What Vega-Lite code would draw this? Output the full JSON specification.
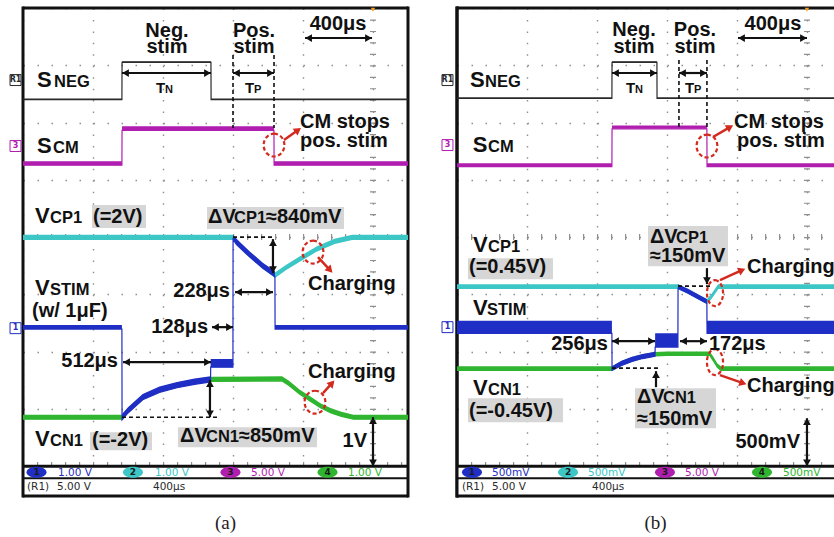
{
"$schema":"https://vega.github.io/schema/vega-lite/v6.json",
"padding":0,
"background":"white",
"spacing":49,
"bounds":"flush",
"data":{"values":[{"frame":1}]},
"config":{"view":{"stroke":null},"legend":{"disable":true},"title":{"orient":"bottom","frame":"group","offset":16,"dx":10,"font":"Liberation Serif","fontSize":19,"fontWeight":"normal","color":"#222"}},
"datasets":{
"tr":[
{"p":"a","ch":"SNEG","x":0,"lo":6.4,"hi":6.42},{"p":"a","ch":"SNEG","x":1.413,"lo":6.4,"hi":6.42},{"p":"a","ch":"SNEG","x":1.415,"lo":7.05,"hi":7.07},{"p":"a","ch":"SNEG","x":2.685,"lo":7.05,"hi":7.07},{"p":"a","ch":"SNEG","x":2.687,"lo":6.4,"hi":6.42},{"p":"a","ch":"SNEG","x":5.5,"lo":6.4,"hi":6.42},
{"p":"a","ch":"SCM","x":0,"lo":5.255,"hi":5.325},{"p":"a","ch":"SCM","x":1.413,"lo":5.255,"hi":5.325},{"p":"a","ch":"SCM","x":1.415,"lo":5.865,"hi":5.935},{"p":"a","ch":"SCM","x":3.585,"lo":5.865,"hi":5.935},{"p":"a","ch":"SCM","x":3.587,"lo":5.255,"hi":5.325},{"p":"a","ch":"SCM","x":5.5,"lo":5.255,"hi":5.325},
{"p":"a","ch":"VCP1","x":0,"lo":3.96,"hi":4.04},{"p":"a","ch":"VCP1","x":3.0,"lo":3.96,"hi":4.04},{"p":"a","ch":"VCP1","x":3.1,"lo":3.82,"hi":3.9},{"p":"a","ch":"VCP1","x":3.24,"lo":3.66,"hi":3.74},{"p":"a","ch":"VCP1","x":3.43,"lo":3.46,"hi":3.54},{"p":"a","ch":"VCP1","x":3.6,"lo":3.3,"hi":3.38},{"p":"a","ch":"VCP1","x":3.75,"lo":3.43,"hi":3.51},{"p":"a","ch":"VCP1","x":3.95,"lo":3.58,"hi":3.66},{"p":"a","ch":"VCP1","x":4.2,"lo":3.76,"hi":3.84},{"p":"a","ch":"VCP1","x":4.45,"lo":3.89,"hi":3.97},{"p":"a","ch":"VCP1","x":4.7,"lo":3.96,"hi":4.04},{"p":"a","ch":"VCP1","x":5.5,"lo":3.96,"hi":4.04},
{"p":"a","ch":"VCN1","x":0,"lo":0.82,"hi":0.9},{"p":"a","ch":"VCN1","x":1.414,"lo":0.82,"hi":0.9},{"p":"a","ch":"VCN1","x":1.5,"lo":0.94,"hi":1.02},{"p":"a","ch":"VCN1","x":1.71,"lo":1.17,"hi":1.25},{"p":"a","ch":"VCN1","x":1.95,"lo":1.3,"hi":1.38},{"p":"a","ch":"VCN1","x":2.2,"lo":1.38,"hi":1.46},{"p":"a","ch":"VCN1","x":2.45,"lo":1.44,"hi":1.52},{"p":"a","ch":"VCN1","x":2.68,"lo":1.48,"hi":1.56},{"p":"a","ch":"VCN1","x":3.7,"lo":1.49,"hi":1.57},{"p":"a","ch":"VCN1","x":3.8,"lo":1.41,"hi":1.49},{"p":"a","ch":"VCN1","x":3.95,"lo":1.26,"hi":1.34},{"p":"a","ch":"VCN1","x":4.1,"lo":1.14,"hi":1.22},{"p":"a","ch":"VCN1","x":4.25,"lo":1.02,"hi":1.1},{"p":"a","ch":"VCN1","x":4.4,"lo":0.93,"hi":1.01},{"p":"a","ch":"VCN1","x":4.55,"lo":0.87,"hi":0.95},{"p":"a","ch":"VCN1","x":4.72,"lo":0.82,"hi":0.9},{"p":"a","ch":"VCN1","x":5.5,"lo":0.82,"hi":0.9},
{"p":"a","ch":"VSTIM","x":0,"lo":2.395,"hi":2.465},{"p":"a","ch":"VSTIM","x":1.413,"lo":2.395,"hi":2.465},{"p":"a","ch":"VSTIM","x":1.415,"lo":0.81,"hi":0.91},{"p":"a","ch":"VSTIM","x":1.5,"lo":0.93,"hi":1.03},{"p":"a","ch":"VSTIM","x":1.71,"lo":1.16,"hi":1.26},{"p":"a","ch":"VSTIM","x":1.95,"lo":1.29,"hi":1.39},{"p":"a","ch":"VSTIM","x":2.2,"lo":1.37,"hi":1.47},{"p":"a","ch":"VSTIM","x":2.45,"lo":1.43,"hi":1.53},{"p":"a","ch":"VSTIM","x":2.679,"lo":1.47,"hi":1.57},{"p":"a","ch":"VSTIM","x":2.681,"lo":1.73,"hi":1.87},{"p":"a","ch":"VSTIM","x":2.999,"lo":1.73,"hi":1.87},{"p":"a","ch":"VSTIM","x":3.001,"lo":3.96,"hi":4.04},{"p":"a","ch":"VSTIM","x":3.05,"lo":3.87,"hi":3.97},{"p":"a","ch":"VSTIM","x":3.24,"lo":3.65,"hi":3.75},{"p":"a","ch":"VSTIM","x":3.43,"lo":3.45,"hi":3.55},{"p":"a","ch":"VSTIM","x":3.599,"lo":3.31,"hi":3.41},{"p":"a","ch":"VSTIM","x":3.601,"lo":2.395,"hi":2.465},{"p":"a","ch":"VSTIM","x":5.5,"lo":2.395,"hi":2.465},
{"p":"b","ch":"SNEG","x":0,"lo":6.42,"hi":6.44},{"p":"b","ch":"SNEG","x":2.213,"lo":6.42,"hi":6.44},{"p":"b","ch":"SNEG","x":2.215,"lo":7.05,"hi":7.07},{"p":"b","ch":"SNEG","x":2.856,"lo":7.05,"hi":7.07},{"p":"b","ch":"SNEG","x":2.858,"lo":6.42,"hi":6.44},{"p":"b","ch":"SNEG","x":5.386,"lo":6.42,"hi":6.44},
{"p":"b","ch":"SCM","x":0,"lo":5.23,"hi":5.29},{"p":"b","ch":"SCM","x":2.213,"lo":5.23,"hi":5.29},{"p":"b","ch":"SCM","x":2.215,"lo":5.89,"hi":5.95},{"p":"b","ch":"SCM","x":3.57,"lo":5.89,"hi":5.95},{"p":"b","ch":"SCM","x":3.572,"lo":5.23,"hi":5.29},{"p":"b","ch":"SCM","x":5.386,"lo":5.23,"hi":5.29},
{"p":"b","ch":"VCP1","x":0,"lo":3.105,"hi":3.175},{"p":"b","ch":"VCP1","x":3.157,"lo":3.105,"hi":3.175},{"p":"b","ch":"VCP1","x":3.3,"lo":3.025,"hi":3.095},{"p":"b","ch":"VCP1","x":3.45,"lo":2.925,"hi":2.995},{"p":"b","ch":"VCP1","x":3.571,"lo":2.845,"hi":2.915},{"p":"b","ch":"VCP1","x":3.64,"lo":2.945,"hi":3.015},{"p":"b","ch":"VCP1","x":3.73,"lo":3.105,"hi":3.175},{"p":"b","ch":"VCP1","x":5.386,"lo":3.105,"hi":3.175},
{"p":"b","ch":"VCN1","x":0,"lo":1.675,"hi":1.745},{"p":"b","ch":"VCN1","x":2.214,"lo":1.675,"hi":1.745},{"p":"b","ch":"VCN1","x":2.35,"lo":1.765,"hi":1.835},{"p":"b","ch":"VCN1","x":2.5,"lo":1.835,"hi":1.905},{"p":"b","ch":"VCN1","x":2.65,"lo":1.885,"hi":1.955},{"p":"b","ch":"VCN1","x":2.83,"lo":1.925,"hi":1.995},{"p":"b","ch":"VCN1","x":3.0,"lo":1.935,"hi":2.005},{"p":"b","ch":"VCN1","x":3.61,"lo":1.935,"hi":2.005},{"p":"b","ch":"VCN1","x":3.66,"lo":1.845,"hi":1.915},{"p":"b","ch":"VCN1","x":3.72,"lo":1.725,"hi":1.795},{"p":"b","ch":"VCN1","x":3.77,"lo":1.675,"hi":1.745},{"p":"b","ch":"VCN1","x":5.386,"lo":1.675,"hi":1.745},
{"p":"b","ch":"VSTIM","x":0,"lo":2.32,"hi":2.54},{"p":"b","ch":"VSTIM","x":2.213,"lo":2.32,"hi":2.54},{"p":"b","ch":"VSTIM","x":2.215,"lo":1.675,"hi":1.745},{"p":"b","ch":"VSTIM","x":2.35,"lo":1.76,"hi":1.84},{"p":"b","ch":"VSTIM","x":2.5,"lo":1.83,"hi":1.91},{"p":"b","ch":"VSTIM","x":2.65,"lo":1.88,"hi":1.96},{"p":"b","ch":"VSTIM","x":2.829,"lo":1.92,"hi":2.0},{"p":"b","ch":"VSTIM","x":2.831,"lo":2.08,"hi":2.32},{"p":"b","ch":"VSTIM","x":3.156,"lo":2.08,"hi":2.32},{"p":"b","ch":"VSTIM","x":3.158,"lo":3.105,"hi":3.175},{"p":"b","ch":"VSTIM","x":3.3,"lo":3.02,"hi":3.1},{"p":"b","ch":"VSTIM","x":3.45,"lo":2.92,"hi":3.0},{"p":"b","ch":"VSTIM","x":3.57,"lo":2.84,"hi":2.92},{"p":"b","ch":"VSTIM","x":3.572,"lo":2.32,"hi":2.54},{"p":"b","ch":"VSTIM","x":5.386,"lo":2.32,"hi":2.54}
],
"lb":[
{"p":"a","part":"note","anchor":"middle","x":2.057,"y":7.485,"t":"Neg."},{"p":"a","part":"note","anchor":"middle","x":2.057,"y":7.214,"t":"stim"},{"p":"a","part":"note","anchor":"middle","x":3.3,"y":7.485,"t":"Pos."},{"p":"a","part":"note","anchor":"middle","x":3.3,"y":7.214,"t":"stim"},{"p":"a","part":"note","anchor":"middle","x":4.5,"y":7.616,"t":"400μs"},
{"p":"a","part":"main","anchor":"start","x":0.2,"y":6.62,"t":"S"},{"p":"a","part":"sub","anchor":"start","x":0.443,"y":6.62,"t":"NEG"},
{"p":"a","part":"tmain","anchor":"start","x":1.9,"y":6.515,"t":"T"},{"p":"a","part":"tsub","anchor":"start","x":2.029,"y":6.515,"t":"N"},{"p":"a","part":"tmain","anchor":"start","x":3.171,"y":6.515,"t":"T"},{"p":"a","part":"tsub","anchor":"start","x":3.3,"y":6.515,"t":"P"},
{"p":"a","part":"main","anchor":"start","x":0.2,"y":5.467,"t":"S"},{"p":"a","part":"sub","anchor":"start","x":0.43,"y":5.467,"t":"CM"},
{"p":"a","part":"note","anchor":"start","x":3.957,"y":5.904,"t":"CM stops"},{"p":"a","part":"note","anchor":"start","x":3.957,"y":5.572,"t":"pos. stim"},
{"p":"a","part":"main","anchor":"start","x":0.171,"y":4.245,"t":"V"},{"p":"a","part":"sub","anchor":"start","x":0.386,"y":4.245,"t":"CP1"},{"p":"a","part":"note","anchor":"start","x":1.0,"y":4.245,"t":"(=2V)"},
{"p":"a","part":"note","anchor":"start","x":2.643,"y":4.245,"t":"ΔV"},{"p":"a","part":"sub","anchor":"start","x":3.014,"y":4.245,"t":"CP1"},{"p":"a","part":"note","anchor":"start","x":3.471,"y":4.245,"t":"≈840mV"},
{"p":"a","part":"note","anchor":"start","x":4.071,"y":3.074,"t":"Charging"},
{"p":"a","part":"main","anchor":"start","x":0.171,"y":2.987,"t":"V"},{"p":"a","part":"sub","anchor":"start","x":0.386,"y":2.987,"t":"STIM"},{"p":"a","part":"note","anchor":"start","x":0.129,"y":2.603,"t":"(w/ 1μF)"},
{"p":"a","part":"note","anchor":"end","x":2.957,"y":2.952,"t":"228μs"},{"p":"a","part":"note","anchor":"end","x":2.643,"y":2.323,"t":"128μs"},{"p":"a","part":"note","anchor":"end","x":1.357,"y":1.729,"t":"512μs"},
{"p":"a","part":"note","anchor":"start","x":4.071,"y":1.537,"t":"Charging"},
{"p":"a","part":"note","anchor":"start","x":2.243,"y":0.419,"t":"ΔV"},{"p":"a","part":"sub","anchor":"start","x":2.614,"y":0.419,"t":"CN1"},{"p":"a","part":"note","anchor":"start","x":3.086,"y":0.419,"t":"≈850mV"},
{"p":"a","part":"main","anchor":"start","x":0.171,"y":0.349,"t":"V"},{"p":"a","part":"sub","anchor":"start","x":0.386,"y":0.349,"t":"CN1"},{"p":"a","part":"note","anchor":"start","x":0.986,"y":0.349,"t":"(=-2V)"},
{"p":"a","part":"note","anchor":"end","x":4.914,"y":0.332,"t":"1V"},
{"p":"b","part":"note","anchor":"middle","x":2.529,"y":7.511,"t":"Neg."},{"p":"b","part":"note","anchor":"middle","x":2.529,"y":7.214,"t":"stim"},{"p":"b","part":"note","anchor":"middle","x":3.4,"y":7.511,"t":"Pos."},{"p":"b","part":"note","anchor":"middle","x":3.4,"y":7.214,"t":"stim"},{"p":"b","part":"note","anchor":"middle","x":4.514,"y":7.616,"t":"400μs"},
{"p":"b","part":"main","anchor":"start","x":0.186,"y":6.62,"t":"S"},{"p":"b","part":"sub","anchor":"start","x":0.4,"y":6.62,"t":"NEG"},
{"p":"b","part":"tmain","anchor":"start","x":2.414,"y":6.515,"t":"T"},{"p":"b","part":"tsub","anchor":"start","x":2.543,"y":6.515,"t":"N"},{"p":"b","part":"tmain","anchor":"start","x":3.257,"y":6.515,"t":"T"},{"p":"b","part":"tsub","anchor":"start","x":3.386,"y":6.515,"t":"P"},
{"p":"b","part":"main","anchor":"start","x":0.224,"y":5.485,"t":"S"},{"p":"b","part":"sub","anchor":"start","x":0.443,"y":5.485,"t":"CM"},
{"p":"b","part":"note","anchor":"start","x":3.957,"y":5.904,"t":"CM stops"},{"p":"b","part":"note","anchor":"start","x":4.0,"y":5.572,"t":"pos. stim"},
{"p":"b","part":"main","anchor":"start","x":0.229,"y":3.738,"t":"V"},{"p":"b","part":"sub","anchor":"start","x":0.443,"y":3.738,"t":"CP1"},{"p":"b","part":"note","anchor":"start","x":0.171,"y":3.371,"t":"(=0.45V)"},
{"p":"b","part":"note","anchor":"start","x":2.757,"y":3.895,"t":"ΔV"},{"p":"b","part":"sub","anchor":"start","x":3.129,"y":3.895,"t":"CP1"},{"p":"b","part":"note","anchor":"start","x":2.757,"y":3.563,"t":"≈150mV"},
{"p":"b","part":"note","anchor":"start","x":4.143,"y":3.371,"t":"Charging"},
{"p":"b","part":"main","anchor":"start","x":0.229,"y":2.638,"t":"V"},{"p":"b","part":"sub","anchor":"start","x":0.429,"y":2.638,"t":"STIM"},
{"p":"b","part":"note","anchor":"end","x":2.157,"y":2.026,"t":"256μs"},{"p":"b","part":"note","anchor":"start","x":3.6,"y":2.026,"t":"172μs"},
{"p":"b","part":"note","anchor":"start","x":4.143,"y":1.293,"t":"Charging"},
{"p":"b","part":"main","anchor":"start","x":0.229,"y":1.24,"t":"V"},{"p":"b","part":"sub","anchor":"start","x":0.443,"y":1.24,"t":"CN1"},{"p":"b","part":"note","anchor":"start","x":0.171,"y":0.856,"t":"(=-0.45V)"},
{"p":"b","part":"note","anchor":"start","x":2.571,"y":1.1,"t":"ΔV"},{"p":"b","part":"sub","anchor":"start","x":2.943,"y":1.1,"t":"CN1"},{"p":"b","part":"note","anchor":"start","x":2.571,"y":0.716,"t":"≈150mV"},
{"p":"b","part":"note","anchor":"end","x":4.9,"y":0.314,"t":"500mV"}
],
"bx":[
{"p":"a","x":0.986,"x2":1.757,"y":4.157,"y2":4.559},{"p":"a","x":2.629,"x2":4.586,"y":4.14,"y2":4.524},{"p":"a","x":2.214,"x2":4.2,"y":0.332,"y2":0.681},{"p":"a","x":0.957,"x2":1.843,"y":0.279,"y2":0.594},
{"p":"b","x":0.157,"x2":1.371,"y":3.266,"y2":3.633},{"p":"b","x":2.729,"x2":3.871,"y":3.493,"y2":4.192},{"p":"b","x":2.543,"x2":3.7,"y":0.664,"y2":1.362},{"p":"b","x":0.157,"x2":1.514,"y":0.769,"y2":1.188}
],
"dl":[
{"p":"a","x":3.0,"y":7.179,"x2":3.0,"y2":5.904},{"p":"a","x":3.586,"y":7.179,"x2":3.586,"y2":5.904},{"p":"a","x":3.0,"y":4.0,"x2":3.586,"y2":4.0},{"p":"a","x":1.414,"y":0.856,"x2":2.771,"y2":0.856},
{"p":"b","x":3.171,"y":7.092,"x2":3.171,"y2":5.921},{"p":"b","x":3.571,"y":7.092,"x2":3.571,"y2":5.921},{"p":"b","x":3.157,"y":3.144,"x2":3.657,"y2":3.144},{"p":"b","x":2.214,"y":1.712,"x2":2.9,"y2":1.712}
],
"ar":[
{"p":"a","x":4.029,"y":7.476,"x2":4.986,"y2":7.476},{"p":"a","x":1.414,"y":6.865,"x2":2.686,"y2":6.865},{"p":"a","x":3.0,"y":6.865,"x2":3.586,"y2":6.865},{"p":"a","x":3.571,"y":3.965,"x2":3.571,"y2":3.371},{"p":"a","x":3.029,"y":3.039,"x2":3.571,"y2":3.039},{"p":"a","x":2.7,"y":2.428,"x2":3.0,"y2":2.428},{"p":"a","x":1.429,"y":1.817,"x2":2.686,"y2":1.817},{"p":"a","x":2.671,"y":1.502,"x2":2.671,"y2":0.856},{"p":"a","x":5.0,"y":0.856,"x2":5.0,"y2":0.0},
{"p":"b","x":4.014,"y":7.476,"x2":5.0,"y2":7.476},{"p":"b","x":2.214,"y":6.865,"x2":2.857,"y2":6.865},{"p":"b","x":3.171,"y":6.865,"x2":3.571,"y2":6.865},{"p":"b","x":2.214,"y":2.183,"x2":2.829,"y2":2.183},{"p":"b","x":3.186,"y":2.183,"x2":3.571,"y2":2.183},{"p":"b","x":5.0,"y":0.838,"x2":5.0,"y2":0.0},{"p":"b","x":3.571,"y":3.459,"x2":3.571,"y2":3.179},{"p":"b","x":2.843,"y":1.38,"x2":2.843,"y2":1.659}
],
"ah":[
{"p":"a","x":4.08,"y":7.476,"d":"l"},{"p":"a","x":4.935,"y":7.476,"d":"r"},{"p":"a","x":1.465,"y":6.865,"d":"l"},{"p":"a","x":2.635,"y":6.865,"d":"r"},{"p":"a","x":3.05,"y":6.865,"d":"l"},{"p":"a","x":3.535,"y":6.865,"d":"r"},{"p":"a","x":3.571,"y":3.905,"d":"u"},{"p":"a","x":3.571,"y":3.431,"d":"d"},{"p":"a","x":3.08,"y":3.039,"d":"l"},{"p":"a","x":3.52,"y":3.039,"d":"r"},{"p":"a","x":2.75,"y":2.428,"d":"l"},{"p":"a","x":2.95,"y":2.428,"d":"r"},{"p":"a","x":1.48,"y":1.817,"d":"l"},{"p":"a","x":2.635,"y":1.817,"d":"r"},{"p":"a","x":2.671,"y":1.442,"d":"u"},{"p":"a","x":2.671,"y":0.916,"d":"d"},{"p":"a","x":5.0,"y":0.796,"d":"u"},{"p":"a","x":5.0,"y":0.06,"d":"d"},
{"p":"b","x":4.065,"y":7.476,"d":"l"},{"p":"b","x":4.95,"y":7.476,"d":"r"},{"p":"b","x":2.265,"y":6.865,"d":"l"},{"p":"b","x":2.806,"y":6.865,"d":"r"},{"p":"b","x":3.222,"y":6.865,"d":"l"},{"p":"b","x":3.52,"y":6.865,"d":"r"},{"p":"b","x":2.265,"y":2.183,"d":"l"},{"p":"b","x":2.778,"y":2.183,"d":"r"},{"p":"b","x":3.237,"y":2.183,"d":"l"},{"p":"b","x":3.52,"y":2.183,"d":"r"},{"p":"b","x":5.0,"y":0.778,"d":"u"},{"p":"b","x":5.0,"y":0.06,"d":"d"},{"p":"b","x":3.571,"y":3.239,"d":"d"},{"p":"b","x":2.843,"y":1.599,"d":"u"}
],
"rl":[
{"p":"a","x":3.729,"y":5.694,"x2":3.929,"y2":5.869,"a":54},{"p":"a","x":4.214,"y":3.651,"x2":4.386,"y2":3.424,"a":137},{"p":"a","x":4.286,"y":1.275,"x2":4.414,"y2":1.45,"a":42},
{"p":"b","x":3.657,"y":5.747,"x2":3.9,"y2":5.921,"a":59},{"p":"b","x":3.757,"y":3.249,"x2":4.071,"y2":3.424,"a":66},{"p":"b","x":3.757,"y":1.59,"x2":4.086,"y2":1.45,"a":109}
],
"el":[
{"p":"a","x":3.586,"y":5.607,"k":"a"},{"p":"a","x":4.143,"y":3.738,"k":"a"},{"p":"a","x":4.171,"y":1.118,"k":"a"},
{"p":"b","x":3.571,"y":5.59,"k":"a"},{"p":"b","x":3.686,"y":3.022,"k":"b"},{"p":"b","x":3.686,"y":1.817,"k":"b"}
],
"mk":[
{"p":"a","ch":"SNEG","x":-0.107,"y":6.742,"t":"R1"},{"p":"a","ch":"SCM","x":-0.107,"y":5.59,"t":"3"},{"p":"a","ch":"VSTIM","x":-0.107,"y":2.41,"t":"1"},
{"p":"b","ch":"SNEG","x":-0.136,"y":6.742,"t":"R1"},{"p":"b","ch":"SCM","x":-0.136,"y":5.607,"t":"3"},{"p":"b","ch":"VSTIM","x":-0.136,"y":2.428,"t":"1"}
],
"tg":[{"p":"a","x":5,"y":7.97},{"p":"b","x":5,"y":7.97}],
"sb":[
{"p":"a","ch":"VSTIM","x":0.193,"y":-0.105,"t":"1"},{"p":"a","ch":"VCP1","x":1.571,"y":-0.105,"t":"2"},{"p":"a","ch":"SCM","x":2.964,"y":-0.105,"t":"3"},{"p":"a","ch":"VCN1","x":4.35,"y":-0.105,"t":"4"},
{"p":"b","ch":"VSTIM","x":0.214,"y":-0.105,"t":"1"},{"p":"b","ch":"VCP1","x":1.586,"y":-0.105,"t":"2"},{"p":"b","ch":"SCM","x":2.971,"y":-0.105,"t":"3"},{"p":"b","ch":"VCN1","x":4.357,"y":-0.105,"t":"4"}
],
"st":[
{"p":"a","ch":"VSTIM","x":0.5,"y":-0.175,"t":"1.00 V"},{"p":"a","ch":"VCP1","x":1.886,"y":-0.175,"t":"1.00 V"},{"p":"a","ch":"SCM","x":3.257,"y":-0.175,"t":"5.00 V"},{"p":"a","ch":"VCN1","x":4.643,"y":-0.175,"t":"1.00 V"},
{"p":"a","ch":"SNEG","x":0.057,"y":-0.42,"t":"(R1)"},{"p":"a","ch":"SNEG","x":0.486,"y":-0.42,"t":"5.00 V"},{"p":"a","ch":"SNEG","x":1.857,"y":-0.42,"t":"400μs"},
{"p":"b","ch":"VSTIM","x":0.5,"y":-0.175,"t":"500mV"},{"p":"b","ch":"VCP1","x":1.871,"y":-0.175,"t":"500mV"},{"p":"b","ch":"SCM","x":3.257,"y":-0.175,"t":"5.00 V"},{"p":"b","ch":"VCN1","x":4.657,"y":-0.175,"t":"500mV"},
{"p":"b","ch":"SNEG","x":0.071,"y":-0.42,"t":"(R1)"},{"p":"b","ch":"SNEG","x":0.5,"y":-0.42,"t":"5.00 V"},{"p":"b","ch":"SNEG","x":1.929,"y":-0.42,"t":"400μs"}
]
},
"hconcat":[
{"width":385,"height":488,"title":"(a)","view":{"stroke":null},
"layer":[
{"mark":{"type":"rule","opacity":0,"strokeWidth":0},"encoding":{"x":{"datum":-0.32857,"type":"quantitative","scale":{"domain":[0,5.5],"nice":false,"zero":false},"axis":{"values":[0,1,2,3,4,5],"grid":true,"gridDash":[1.5,9.95],"gridColor":"#8f8f8f","gridWidth":1.4,"labels":false,"ticks":false,"domain":false,"title":null}},"y":{"datum":8,"type":"quantitative","scale":{"domain":[-0.52,8],"nice":false,"zero":false},"axis":{"values":[0,1,2,3,4,5,6,7,8],"grid":true,"gridDash":[1.5,12.5],"gridColor":"#8f8f8f","gridWidth":1.4,"labels":false,"ticks":false,"domain":false,"title":null}},"y2":{"datum":-0.52}}},
{"mark":{"type":"rule","opacity":0,"strokeWidth":0},"encoding":{"y":{"datum":8.13967,"type":"quantitative"},"x":{"datum":0,"type":"quantitative"},"x2":{"datum":5.5}}},
{"mark":{"type":"rule","color":"#8f8f8f","strokeWidth":6,"strokeDash":[1.2,12.8]},"encoding":{"y":{"datum":4,"type":"quantitative"},"x":{"datum":0,"type":"quantitative"},"x2":{"datum":5.5}}},
{"mark":{"type":"rule","color":"#8f8f8f","strokeWidth":6,"strokeDash":[1.2,10.25]},"encoding":{"x":{"datum":5,"type":"quantitative"},"y":{"datum":8,"type":"quantitative"},"y2":{"datum":0}}},
{"mark":{"type":"rule","color":"#8f8f8f","strokeWidth":4,"strokeDash":[1.2,12.8]},"encoding":{"y":{"datum":0.04,"type":"quantitative"},"x":{"datum":0,"type":"quantitative"},"x2":{"datum":5.5}}},
{"mark":{"type":"rect","color":"white"},"encoding":{"x":{"datum":0,"type":"quantitative"},"x2":{"datum":5.5},"y":{"datum":0,"type":"quantitative"},"y2":{"datum":-0.52}}},
{"mark":{"type":"rule","color":"#111","strokeWidth":3,"strokeCap":"square"},"encoding":{"x":{"datum":0,"type":"quantitative"},"y":{"datum":8,"type":"quantitative"},"y2":{"datum":-0.52}}},
{"mark":{"type":"rule","color":"#111","strokeWidth":3,"strokeCap":"square"},"encoding":{"x":{"datum":5.5,"type":"quantitative"},"y":{"datum":8,"type":"quantitative"},"y2":{"datum":-0.52}}},
{"mark":{"type":"rule","color":"#111","strokeWidth":3},"encoding":{"y":{"datum":8,"type":"quantitative"},"x":{"datum":0,"type":"quantitative"},"x2":{"datum":5.5}}},
{"mark":{"type":"rule","color":"#111","strokeWidth":3},"encoding":{"y":{"datum":0,"type":"quantitative"},"x":{"datum":0,"type":"quantitative"},"x2":{"datum":5.5}}},
{"mark":{"type":"rule","color":"#111","strokeWidth":2},"encoding":{"y":{"datum":-0.21,"type":"quantitative"},"x":{"datum":0,"type":"quantitative"},"x2":{"datum":5.5}}},
{"mark":{"type":"rule","color":"#111","strokeWidth":3},"encoding":{"y":{"datum":-0.52,"type":"quantitative"},"x":{"datum":0,"type":"quantitative"},"x2":{"datum":5.5}}},
{"data":{"name":"tr"},"transform":[{"filter":"datum.p=='a' && datum.ch!='VSTIM'"}],"mark":{"type":"area","opacity":1},"encoding":{"x":{"field":"x","type":"quantitative"},"y":{"field":"lo","type":"quantitative","stack":null},"y2":{"field":"hi"},"color":{"field":"ch","type":"nominal","scale":{"domain":["SNEG","SCM","VCP1","VCN1","VSTIM"],"range":["#2a2a2a","#b01eb0","#3cc6c6","#2fb52f","#1f2ec4"]},"legend":null}}},
{"data":{"name":"tr"},"transform":[{"filter":"datum.p=='a' && datum.ch!='VSTIM'"}],"mark":{"type":"line","strokeWidth":1.2},"encoding":{"x":{"field":"x","type":"quantitative"},"y":{"field":"lo","type":"quantitative"},"color":{"field":"ch","type":"nominal","legend":null}}},
{"data":{"name":"tr"},"transform":[{"filter":"datum.p=='a' && datum.ch=='VSTIM'"}],"mark":{"type":"area","opacity":1},"encoding":{"x":{"field":"x","type":"quantitative"},"y":{"field":"lo","type":"quantitative","stack":null},"y2":{"field":"hi"},"color":{"field":"ch","type":"nominal","legend":null}}},
{"data":{"name":"tr"},"transform":[{"filter":"datum.p=='a' && datum.ch=='VSTIM'"}],"mark":{"type":"line","strokeWidth":1.2},"encoding":{"x":{"field":"x","type":"quantitative"},"y":{"field":"lo","type":"quantitative"},"color":{"field":"ch","type":"nominal","legend":null}}},
{"data":{"name":"bx"},"transform":[{"filter":"datum.p=='a'"}],"mark":{"type":"rect","color":"#d6d6d6"},"encoding":{"x":{"field":"x","type":"quantitative"},"x2":{"field":"x2"},"y":{"field":"y","type":"quantitative"},"y2":{"field":"y2"}}},
{"data":{"name":"dl"},"transform":[{"filter":"datum.p=='a'"}],"mark":{"type":"rule","color":"#111","strokeWidth":1.6,"strokeDash":[4,3]},"encoding":{"x":{"field":"x","type":"quantitative"},"x2":{"field":"x2"},"y":{"field":"y","type":"quantitative"},"y2":{"field":"y2"}}},
{"data":{"name":"ar"},"transform":[{"filter":"datum.p=='a'"}],"mark":{"type":"rule","color":"#111","strokeWidth":2.2},"encoding":{"x":{"field":"x","type":"quantitative"},"x2":{"field":"x2"},"y":{"field":"y","type":"quantitative"},"y2":{"field":"y2"}}},
{"data":{"name":"ah"},"transform":[{"filter":"datum.p=='a'"}],"mark":{"type":"point","filled":true,"color":"#111","size":60,"opacity":1},"encoding":{"x":{"field":"x","type":"quantitative"},"y":{"field":"y","type":"quantitative"},"shape":{"field":"d","type":"nominal","scale":{"domain":["l","r","u","d"],"range":["triangle-left","triangle-right","triangle-up","triangle-down"]},"legend":null}}},
{"data":{"name":"rl"},"transform":[{"filter":"datum.p=='a'"}],"mark":{"type":"rule","color":"#d42a1e","strokeWidth":2.5},"encoding":{"x":{"field":"x","type":"quantitative"},"x2":{"field":"x2"},"y":{"field":"y","type":"quantitative"},"y2":{"field":"y2"}}},
{"data":{"name":"rl"},"transform":[{"filter":"datum.p=='a'"}],"mark":{"type":"point","shape":"triangle-up","filled":true,"color":"#d42a1e","size":70,"opacity":1},"encoding":{"x":{"field":"x2","type":"quantitative"},"y":{"field":"y2","type":"quantitative"},"angle":{"field":"a","type":"quantitative","scale":null}}},
{"data":{"name":"el"},"transform":[{"filter":"datum.p=='a' && datum.k=='a'"}],"mark":{"type":"point","shape":"M0,-0.88A0.8,0.88 0 1,1 0,0.88A0.8,0.88 0 1,1 0,-0.88Z","filled":false,"color":"#d42a1e","strokeWidth":2.2,"strokeDash":[4,2.5],"size":676,"opacity":1},"encoding":{"x":{"field":"x","type":"quantitative"},"y":{"field":"y","type":"quantitative"}}},
{"data":{"name":"mk"},"transform":[{"filter":"datum.p=='a'"}],"mark":{"type":"point","shape":"square","filled":false,"size":120,"strokeWidth":1,"opacity":1},"encoding":{"x":{"field":"x","type":"quantitative"},"y":{"field":"y","type":"quantitative"},"color":{"field":"ch","type":"nominal","legend":null}}},
{"data":{"name":"mk"},"transform":[{"filter":"datum.p=='a'"}],"mark":{"type":"text","font":"DejaVu Sans","fontSize":8,"fontWeight":"bold","align":"center","baseline":"middle"},"encoding":{"x":{"field":"x","type":"quantitative"},"y":{"field":"y","type":"quantitative"},"text":{"field":"t"},"color":{"field":"ch","type":"nominal","legend":null}}},
{"data":{"name":"tg"},"transform":[{"filter":"datum.p=='a'"}],"mark":{"type":"point","shape":"triangle-down","filled":true,"color":"#f0a020","size":20,"opacity":1},"encoding":{"x":{"field":"x","type":"quantitative"},"y":{"field":"y","type":"quantitative"}}},
{"data":{"name":"sb"},"transform":[{"filter":"datum.p=='a'"}],"mark":{"type":"point","shape":"M-1,0A1,0.55 0 1,1 1,0A1,0.55 0 1,1 -1,0Z","filled":true,"size":400,"opacity":1},"encoding":{"x":{"field":"x","type":"quantitative"},"y":{"field":"y","type":"quantitative"},"color":{"field":"ch","type":"nominal","legend":null}}},
{"data":{"name":"sb"},"transform":[{"filter":"datum.p=='a'"}],"mark":{"type":"text","font":"DejaVu Sans","fontSize":9,"fontWeight":"bold","align":"center","baseline":"middle","color":"#1a1a1a"},"encoding":{"x":{"field":"x","type":"quantitative"},"y":{"field":"y","type":"quantitative"},"text":{"field":"t"}}},
{"data":{"name":"st"},"transform":[{"filter":"datum.p=='a'"}],"mark":{"type":"text","font":"DejaVu Sans","fontSize":10.5,"align":"left","baseline":"alphabetic"},"encoding":{"x":{"field":"x","type":"quantitative"},"y":{"field":"y","type":"quantitative"},"text":{"field":"t"},"color":{"field":"ch","type":"nominal","legend":null}}},
{"data":{"name":"lb"},"transform":[{"filter":"datum.p=='a' && datum.part=='main'"}],"mark":{"type":"text","font":"Liberation Sans","fontWeight":"bold","fontSize":22,"align":"left","baseline":"alphabetic","color":"#111"},"encoding":{"x":{"field":"x","type":"quantitative"},"y":{"field":"y","type":"quantitative"},"text":{"field":"t"}}},
{"data":{"name":"lb"},"transform":[{"filter":"datum.p=='a' && datum.part=='sub'"}],"mark":{"type":"text","font":"Liberation Sans","fontWeight":"bold","fontSize":16.5,"align":"left","baseline":"alphabetic","color":"#111"},"encoding":{"x":{"field":"x","type":"quantitative"},"y":{"field":"y","type":"quantitative"},"text":{"field":"t"}}},
{"data":{"name":"lb"},"transform":[{"filter":"datum.p=='a' && datum.part=='tmain'"}],"mark":{"type":"text","font":"Liberation Sans","fontWeight":"bold","fontSize":15,"align":"left","baseline":"alphabetic","color":"#111"},"encoding":{"x":{"field":"x","type":"quantitative"},"y":{"field":"y","type":"quantitative"},"text":{"field":"t"}}},
{"data":{"name":"lb"},"transform":[{"filter":"datum.p=='a' && datum.part=='tsub'"}],"mark":{"type":"text","font":"Liberation Sans","fontWeight":"bold","fontSize":11,"align":"left","baseline":"alphabetic","color":"#111"},"encoding":{"x":{"field":"x","type":"quantitative"},"y":{"field":"y","type":"quantitative"},"text":{"field":"t"}}},
{"data":{"name":"lb"},"transform":[{"filter":"datum.p=='a' && datum.part=='note' && datum.anchor=='start'"}],"mark":{"type":"text","font":"Liberation Sans","fontWeight":"bold","fontSize":20,"align":"left","baseline":"alphabetic","color":"#111"},"encoding":{"x":{"field":"x","type":"quantitative"},"y":{"field":"y","type":"quantitative"},"text":{"field":"t"}}},
{"data":{"name":"lb"},"transform":[{"filter":"datum.p=='a' && datum.part=='note' && datum.anchor=='middle'"}],"mark":{"type":"text","font":"Liberation Sans","fontWeight":"bold","fontSize":20,"align":"center","baseline":"alphabetic","color":"#111"},"encoding":{"x":{"field":"x","type":"quantitative"},"y":{"field":"y","type":"quantitative"},"text":{"field":"t"}}},
{"data":{"name":"lb"},"transform":[{"filter":"datum.p=='a' && datum.part=='note' && datum.anchor=='end'"}],"mark":{"type":"text","font":"Liberation Sans","fontWeight":"bold","fontSize":20,"align":"right","baseline":"alphabetic","color":"#111"},"encoding":{"x":{"field":"x","type":"quantitative"},"y":{"field":"y","type":"quantitative"},"text":{"field":"t"}}}
]},
{"width":377,"height":488,"title":"(b)","view":{"stroke":null},
"layer":[
{"mark":{"type":"rule","color":"#111","strokeWidth":3,"strokeCap":"square"},"encoding":{"x":{"datum":0,"type":"quantitative","scale":{"domain":[0,5.386],"nice":false,"zero":false},"axis":{"values":[0,1,2,3,4,5],"grid":true,"gridDash":[1.5,9.95],"gridColor":"#8f8f8f","gridWidth":1.4,"labels":false,"ticks":false,"domain":false,"title":null}},"y":{"datum":8,"type":"quantitative","scale":{"domain":[-0.52,8],"nice":false,"zero":false},"axis":{"values":[0,1,2,3,4,5,6,7,8],"grid":true,"gridDash":[1.5,12.5],"gridColor":"#8f8f8f","gridWidth":1.4,"labels":false,"ticks":false,"domain":false,"title":null}},"y2":{"datum":-0.52}}},
{"mark":{"type":"rule","color":"#8f8f8f","strokeWidth":6,"strokeDash":[1.2,12.8]},"encoding":{"y":{"datum":4,"type":"quantitative"},"x":{"datum":0,"type":"quantitative"},"x2":{"datum":5.386}}},
{"mark":{"type":"rule","color":"#8f8f8f","strokeWidth":6,"strokeDash":[1.2,10.25]},"encoding":{"x":{"datum":5,"type":"quantitative"},"y":{"datum":8,"type":"quantitative"},"y2":{"datum":0}}},
{"mark":{"type":"rule","color":"#8f8f8f","strokeWidth":4,"strokeDash":[1.2,12.8]},"encoding":{"y":{"datum":0.04,"type":"quantitative"},"x":{"datum":0,"type":"quantitative"},"x2":{"datum":5.386}}},
{"mark":{"type":"rect","color":"white"},"encoding":{"x":{"datum":0,"type":"quantitative"},"x2":{"datum":5.386},"y":{"datum":0,"type":"quantitative"},"y2":{"datum":-0.52}}},
{"mark":{"type":"rule","color":"#111","strokeWidth":3,"strokeCap":"square"},"encoding":{"x":{"datum":0,"type":"quantitative"},"y":{"datum":8,"type":"quantitative"},"y2":{"datum":-0.52}}},
{"mark":{"type":"rule","color":"#111","strokeWidth":3},"encoding":{"y":{"datum":8,"type":"quantitative"},"x":{"datum":0,"type":"quantitative"},"x2":{"datum":5.386}}},
{"mark":{"type":"rule","color":"#111","strokeWidth":3},"encoding":{"y":{"datum":0,"type":"quantitative"},"x":{"datum":0,"type":"quantitative"},"x2":{"datum":5.386}}},
{"mark":{"type":"rule","color":"#111","strokeWidth":2},"encoding":{"y":{"datum":-0.21,"type":"quantitative"},"x":{"datum":0,"type":"quantitative"},"x2":{"datum":5.386}}},
{"mark":{"type":"rule","color":"#111","strokeWidth":3},"encoding":{"y":{"datum":-0.52,"type":"quantitative"},"x":{"datum":0,"type":"quantitative"},"x2":{"datum":5.386}}},
{"data":{"name":"tr"},"transform":[{"filter":"datum.p=='b' && datum.ch!='VSTIM'"}],"mark":{"type":"area","opacity":1},"encoding":{"x":{"field":"x","type":"quantitative"},"y":{"field":"lo","type":"quantitative","stack":null},"y2":{"field":"hi"},"color":{"field":"ch","type":"nominal","scale":{"domain":["SNEG","SCM","VCP1","VCN1","VSTIM"],"range":["#2a2a2a","#b01eb0","#3cc6c6","#2fb52f","#1f2ec4"]},"legend":null}}},
{"data":{"name":"tr"},"transform":[{"filter":"datum.p=='b' && datum.ch!='VSTIM'"}],"mark":{"type":"line","strokeWidth":1.2},"encoding":{"x":{"field":"x","type":"quantitative"},"y":{"field":"lo","type":"quantitative"},"color":{"field":"ch","type":"nominal","legend":null}}},
{"data":{"name":"tr"},"transform":[{"filter":"datum.p=='b' && datum.ch=='VSTIM'"}],"mark":{"type":"area","opacity":1},"encoding":{"x":{"field":"x","type":"quantitative"},"y":{"field":"lo","type":"quantitative","stack":null},"y2":{"field":"hi"},"color":{"field":"ch","type":"nominal","legend":null}}},
{"data":{"name":"tr"},"transform":[{"filter":"datum.p=='b' && datum.ch=='VSTIM'"}],"mark":{"type":"line","strokeWidth":1.2},"encoding":{"x":{"field":"x","type":"quantitative"},"y":{"field":"lo","type":"quantitative"},"color":{"field":"ch","type":"nominal","legend":null}}},
{"data":{"name":"bx"},"transform":[{"filter":"datum.p=='b'"}],"mark":{"type":"rect","color":"#d6d6d6"},"encoding":{"x":{"field":"x","type":"quantitative"},"x2":{"field":"x2"},"y":{"field":"y","type":"quantitative"},"y2":{"field":"y2"}}},
{"data":{"name":"dl"},"transform":[{"filter":"datum.p=='b'"}],"mark":{"type":"rule","color":"#111","strokeWidth":1.6,"strokeDash":[4,3]},"encoding":{"x":{"field":"x","type":"quantitative"},"x2":{"field":"x2"},"y":{"field":"y","type":"quantitative"},"y2":{"field":"y2"}}},
{"data":{"name":"ar"},"transform":[{"filter":"datum.p=='b'"}],"mark":{"type":"rule","color":"#111","strokeWidth":2.2},"encoding":{"x":{"field":"x","type":"quantitative"},"x2":{"field":"x2"},"y":{"field":"y","type":"quantitative"},"y2":{"field":"y2"}}},
{"data":{"name":"ah"},"transform":[{"filter":"datum.p=='b'"}],"mark":{"type":"point","filled":true,"color":"#111","size":60,"opacity":1},"encoding":{"x":{"field":"x","type":"quantitative"},"y":{"field":"y","type":"quantitative"},"shape":{"field":"d","type":"nominal","scale":{"domain":["l","r","u","d"],"range":["triangle-left","triangle-right","triangle-up","triangle-down"]},"legend":null}}},
{"data":{"name":"rl"},"transform":[{"filter":"datum.p=='b'"}],"mark":{"type":"rule","color":"#d42a1e","strokeWidth":2.5},"encoding":{"x":{"field":"x","type":"quantitative"},"x2":{"field":"x2"},"y":{"field":"y","type":"quantitative"},"y2":{"field":"y2"}}},
{"data":{"name":"rl"},"transform":[{"filter":"datum.p=='b'"}],"mark":{"type":"point","shape":"triangle-up","filled":true,"color":"#d42a1e","size":70,"opacity":1},"encoding":{"x":{"field":"x2","type":"quantitative"},"y":{"field":"y2","type":"quantitative"},"angle":{"field":"a","type":"quantitative","scale":null}}},
{"data":{"name":"el"},"transform":[{"filter":"datum.p=='b' && datum.k=='a'"}],"mark":{"type":"point","shape":"M0,-0.88A0.8,0.88 0 1,1 0,0.88A0.8,0.88 0 1,1 0,-0.88Z","filled":false,"color":"#d42a1e","strokeWidth":2.2,"strokeDash":[4,2.5],"size":676,"opacity":1},"encoding":{"x":{"field":"x","type":"quantitative"},"y":{"field":"y","type":"quantitative"}}},
{"data":{"name":"el"},"transform":[{"filter":"datum.p=='b' && datum.k=='b'"}],"mark":{"type":"point","shape":"M0,-1A0.62,1 0 1,1 0,1A0.62,1 0 1,1 0,-1Z","filled":false,"color":"#d42a1e","strokeWidth":2.2,"strokeDash":[4,2.5],"size":676,"opacity":1},"encoding":{"x":{"field":"x","type":"quantitative"},"y":{"field":"y","type":"quantitative"}}},
{"data":{"name":"mk"},"transform":[{"filter":"datum.p=='b'"}],"mark":{"type":"point","shape":"square","filled":false,"size":120,"strokeWidth":1,"opacity":1},"encoding":{"x":{"field":"x","type":"quantitative"},"y":{"field":"y","type":"quantitative"},"color":{"field":"ch","type":"nominal","legend":null}}},
{"data":{"name":"mk"},"transform":[{"filter":"datum.p=='b'"}],"mark":{"type":"text","font":"DejaVu Sans","fontSize":8,"fontWeight":"bold","align":"center","baseline":"middle"},"encoding":{"x":{"field":"x","type":"quantitative"},"y":{"field":"y","type":"quantitative"},"text":{"field":"t"},"color":{"field":"ch","type":"nominal","legend":null}}},
{"data":{"name":"tg"},"transform":[{"filter":"datum.p=='b'"}],"mark":{"type":"point","shape":"triangle-down","filled":true,"color":"#f0a020","size":20,"opacity":1},"encoding":{"x":{"field":"x","type":"quantitative"},"y":{"field":"y","type":"quantitative"}}},
{"data":{"name":"sb"},"transform":[{"filter":"datum.p=='b'"}],"mark":{"type":"point","shape":"M-1,0A1,0.55 0 1,1 1,0A1,0.55 0 1,1 -1,0Z","filled":true,"size":400,"opacity":1},"encoding":{"x":{"field":"x","type":"quantitative"},"y":{"field":"y","type":"quantitative"},"color":{"field":"ch","type":"nominal","legend":null}}},
{"data":{"name":"sb"},"transform":[{"filter":"datum.p=='b'"}],"mark":{"type":"text","font":"DejaVu Sans","fontSize":9,"fontWeight":"bold","align":"center","baseline":"middle","color":"#1a1a1a"},"encoding":{"x":{"field":"x","type":"quantitative"},"y":{"field":"y","type":"quantitative"},"text":{"field":"t"}}},
{"data":{"name":"st"},"transform":[{"filter":"datum.p=='b'"}],"mark":{"type":"text","font":"DejaVu Sans","fontSize":10.5,"align":"left","baseline":"alphabetic"},"encoding":{"x":{"field":"x","type":"quantitative"},"y":{"field":"y","type":"quantitative"},"text":{"field":"t"},"color":{"field":"ch","type":"nominal","legend":null}}},
{"data":{"name":"lb"},"transform":[{"filter":"datum.p=='b' && datum.part=='main'"}],"mark":{"type":"text","font":"Liberation Sans","fontWeight":"bold","fontSize":22,"align":"left","baseline":"alphabetic","color":"#111"},"encoding":{"x":{"field":"x","type":"quantitative"},"y":{"field":"y","type":"quantitative"},"text":{"field":"t"}}},
{"data":{"name":"lb"},"transform":[{"filter":"datum.p=='b' && datum.part=='sub'"}],"mark":{"type":"text","font":"Liberation Sans","fontWeight":"bold","fontSize":16.5,"align":"left","baseline":"alphabetic","color":"#111"},"encoding":{"x":{"field":"x","type":"quantitative"},"y":{"field":"y","type":"quantitative"},"text":{"field":"t"}}},
{"data":{"name":"lb"},"transform":[{"filter":"datum.p=='b' && datum.part=='tmain'"}],"mark":{"type":"text","font":"Liberation Sans","fontWeight":"bold","fontSize":15,"align":"left","baseline":"alphabetic","color":"#111"},"encoding":{"x":{"field":"x","type":"quantitative"},"y":{"field":"y","type":"quantitative"},"text":{"field":"t"}}},
{"data":{"name":"lb"},"transform":[{"filter":"datum.p=='b' && datum.part=='tsub'"}],"mark":{"type":"text","font":"Liberation Sans","fontWeight":"bold","fontSize":11,"align":"left","baseline":"alphabetic","color":"#111"},"encoding":{"x":{"field":"x","type":"quantitative"},"y":{"field":"y","type":"quantitative"},"text":{"field":"t"}}},
{"data":{"name":"lb"},"transform":[{"filter":"datum.p=='b' && datum.part=='note' && datum.anchor=='start'"}],"mark":{"type":"text","font":"Liberation Sans","fontWeight":"bold","fontSize":20,"align":"left","baseline":"alphabetic","color":"#111","clip":true},"encoding":{"x":{"field":"x","type":"quantitative"},"y":{"field":"y","type":"quantitative"},"text":{"field":"t"}}},
{"data":{"name":"lb"},"transform":[{"filter":"datum.p=='b' && datum.part=='note' && datum.anchor=='middle'"}],"mark":{"type":"text","font":"Liberation Sans","fontWeight":"bold","fontSize":20,"align":"center","baseline":"alphabetic","color":"#111"},"encoding":{"x":{"field":"x","type":"quantitative"},"y":{"field":"y","type":"quantitative"},"text":{"field":"t"}}},
{"data":{"name":"lb"},"transform":[{"filter":"datum.p=='b' && datum.part=='note' && datum.anchor=='end'"}],"mark":{"type":"text","font":"Liberation Sans","fontWeight":"bold","fontSize":20,"align":"right","baseline":"alphabetic","color":"#111"},"encoding":{"x":{"field":"x","type":"quantitative"},"y":{"field":"y","type":"quantitative"},"text":{"field":"t"}}}
]}
]
}
